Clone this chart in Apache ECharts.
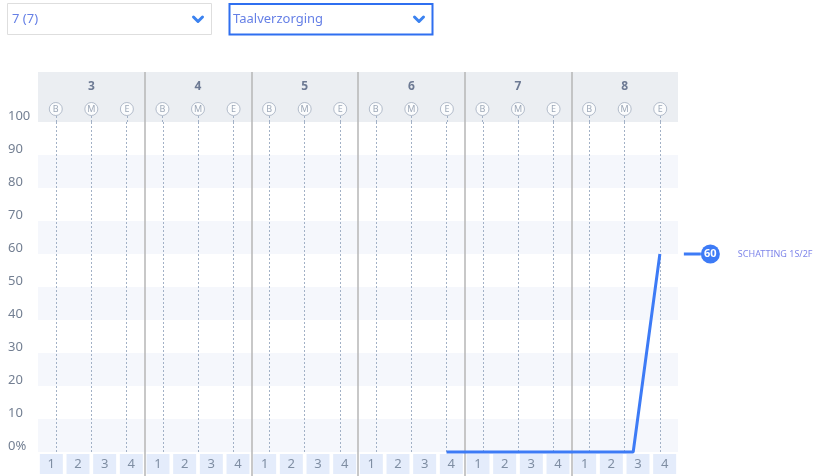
<!DOCTYPE html>
<html><head><meta charset="utf-8">
<script src="https://cdn.jsdelivr.net/npm/echarts@6/dist/echarts.min.js"></script>
<style>html,body{margin:0;padding:0;background:#fff}#c{width:814px;height:476px}</style>
</head><body><div id="c"></div>
<script>
// ---- data ----
const groups = [3, 4, 5, 6, 7, 8];
const phases = ['B', 'M', 'E'];
const phaseOffsets = [1/6, 1/2, 5/6];
const quarters = [1, 2, 3, 4];
const yTickStep = 10;
const yMax = 100;
const lineX = [6.83, 8.58, 8.83];
const lineY = [0, 0, 60];
const seriesName = 'SCHATTING 1S/2F';
const dropdownLeft = '7 (7)';
const dropdownRight = 'Taalverzorging';

// ---- styling ----
const FONT = 'Noto Sans';
const BLUE = '#3d7bf6';
const SEP = '#b6b6b6';
const gl = 38, gr = 136;

const lineData = lineX.map((x, i) => [x, lineY[i]]);
const circleData = [];
const headerSeg = [];
const mainGuides = [];
groups.forEach(g => phases.forEach((p, i) => {
  const x = g + phaseOffsets[i];
  circleData.push([x, 13, p]);
  headerSeg.push([{coord: [x, 0]}, {coord: [x, 7]}]);
  mainGuides.push({xAxis: x});
}));
const groupLabelData = groups.map(g => [g + 0.5, 35, String(g)]);
const quarterData = [];
groups.forEach(g => quarters.forEach(q => quarterData.push([g + (q - 0.5) / quarters.length, 20, q])));

const xBase = (gi) => ({
  type: 'value', gridIndex: gi, min: groups[0], max: groups[groups.length - 1] + 1, interval: 1,
  axisLine: {show: false}, axisTick: {show: false}, axisLabel: {show: false},
  splitLine: {show: true, showMinLine: false, showMaxLine: false, lineStyle: {color: SEP, width: 1.5}}
});

const chart = echarts.init(document.getElementById('c'), null, {renderer: 'canvas'});
chart.setOption({
  animation: false,
  textStyle: {fontFamily: FONT},
  grid: [
    {left: gl, right: gr, top: 122, height: 330},
    {left: gl, right: gr, top: 72, height: 50, show: true, backgroundColor: '#ebeef2', borderWidth: 0},
    {left: gl, right: gr, top: 452, height: 24}
  ],
  xAxis: [xBase(0), xBase(1), xBase(2)],
  yAxis: [
    {type: 'value', gridIndex: 0, min: 0, max: yMax, interval: yTickStep,
     axisLine: {show: false}, axisTick: {show: false}, splitLine: {show: false},
     splitArea: {show: true, areaStyle: {color: ['#f5f7fc', '#ffffff']}},
     axisLabel: {align: 'left', margin: 30, verticalAlign: 'bottom', lineHeight: 11, fontSize: 13, color: '#737f92', fontFamily: FONT,
       formatter: v => v === 0 ? '0%' : String(v)}},
    {type: 'value', gridIndex: 1, min: 0, max: 50, show: false},
    {type: 'value', gridIndex: 2, min: -2, max: 22, show: false}
  ],
  graphic: [
    {type: 'rect', shape: {x: 7.5, y: 3.5, width: 204, height: 31}, style: {fill: '#fff', stroke: '#dedede', lineWidth: 1}},
    {type: 'text', x: 12, y: 19, style: {text: dropdownLeft, fill: '#6680e6', font: '13px "Noto Sans"', verticalAlign: 'middle'}},
    {type: 'polyline', shape: {points: [[193.5, 17], [198, 21.5], [202.5, 17]]}, style: {stroke: '#3b82f0', lineWidth: 3, fill: null, lineCap: 'round', lineJoin: 'round'}},
    {type: 'rect', shape: {x: 229.5, y: 4, width: 203, height: 30.5}, style: {fill: '#fff', stroke: '#2f6ff0', lineWidth: 2}},
    {type: 'text', x: 233, y: 19, style: {text: dropdownRight, fill: '#6680e6', font: '13px "Noto Sans"', verticalAlign: 'middle'}},
    {type: 'polyline', shape: {points: [[414.5, 17], [419, 21.5], [423.5, 17]]}, style: {stroke: '#3b82f0', lineWidth: 3, fill: null, lineCap: 'round', lineJoin: 'round'}}
  ],
  series: [
    {
      name: seriesName, type: 'line', xAxisIndex: 0, yAxisIndex: 0, data: lineData, showSymbol: false,
      clip: false, z: 5,
      lineStyle: {color: BLUE, width: 3},
      markLine: {silent: true, symbol: 'none', label: {show: false}, animation: false,
        lineStyle: {color: '#a2b1c6', type: [2, 2], width: 1}, data: mainGuides},
      endLabel: {
        show: true, distance: 24,
        formatter: p => '{bar| }{c|' + p.value[1] + '}{t|' + seriesName + '}',
        rich: {
          bar: {width: 17, height: 3, backgroundColor: BLUE, fontSize: 1},
          c: {width: 19, height: 19, lineHeight: 19, borderRadius: 10, backgroundColor: BLUE, color: '#fff',
              fontSize: 11, fontWeight: 'bold', align: 'center', fontFamily: FONT},
          t: {padding: [0, 0, 0, 18], fontSize: 9, color: '#7f86ea', fontFamily: FONT}
        }
      }
    },
    {
      type: 'scatter', xAxisIndex: 1, yAxisIndex: 1, data: circleData, symbol: 'circle', symbolSize: 13, z: 4,
      itemStyle: {color: '#fff', borderColor: '#a3aebf', borderWidth: 1},
      label: {show: true, position: 'inside', formatter: p => p.data[2], fontSize: 9, color: '#8592a6', fontFamily: FONT},
      markLine: {silent: true, symbol: 'none', label: {show: false}, animation: false,
        lineStyle: {color: '#a2b1c6', type: [2, 2], width: 1}, data: headerSeg},
      emphasis: {disabled: true}
    },
    {
      type: 'scatter', xAxisIndex: 1, yAxisIndex: 1, data: groupLabelData, symbolSize: 1,
      itemStyle: {color: 'transparent'},
      label: {show: true, position: 'inside', formatter: p => p.data[2], fontSize: 12, fontWeight: 'bold', color: '#4d5d7c', fontFamily: FONT},
      emphasis: {disabled: true}
    },
    {
      type: 'bar', xAxisIndex: 2, yAxisIndex: 2, data: quarterData, barWidth: 23,
      encode: {x: 0, y: 1},
      itemStyle: {color: '#e4ecfb'},
      label: {show: true, position: 'inside', formatter: p => String(p.data[2]), fontSize: 13, color: '#7f8ea3', fontFamily: FONT},
      emphasis: {disabled: true}
    }
  ]
});
</script></body></html>
